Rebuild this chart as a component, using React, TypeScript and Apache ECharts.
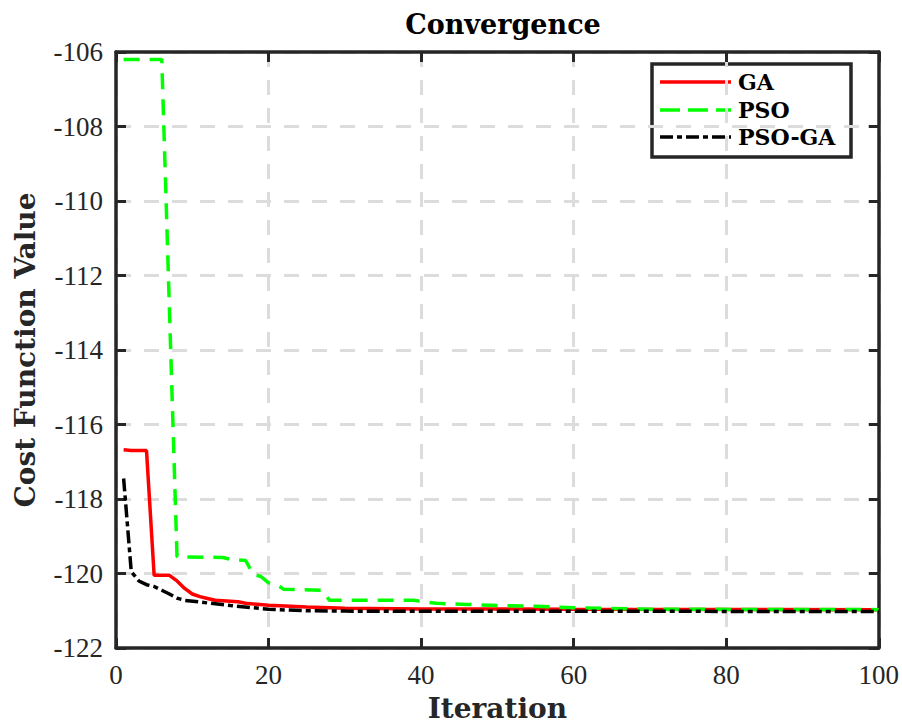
import React, { useEffect, useRef } from "react";
import * as echarts from "echarts";

const xTicks = [0, 20, 40, 60, 80, 100];
const yTicks = [-122, -120, -118, -116, -114, -112, -110, -108, -106];

const gaData: [number, number][] = [
  [1, -116.68], [2, -116.7], [3, -116.7], [4, -116.7], [5, -120.05], [6, -120.05], [7, -120.05],
  [8, -120.2], [9, -120.4], [10, -120.55], [11, -120.62], [12, -120.67], [13, -120.72],
  [16, -120.76], [17, -120.8], [20, -120.85], [25, -120.9], [30, -120.93], [40, -120.95],
  [60, -120.96], [100, -120.97],
];

const psoData: [number, number][] = [
  [1, -106.2], [6, -106.2], [8, -119.55], [14, -119.57], [15, -119.62], [17, -119.65],
  [18, -120.03], [19, -120.08], [20, -120.25], [21, -120.3], [22, -120.42], [27, -120.45],
  [28, -120.72], [39, -120.72], [42, -120.8], [46, -120.83], [50, -120.86], [55, -120.88],
  [60, -120.92], [70, -120.96], [100, -120.97],
];

const psoGaData: [number, number][] = [
  [1, -117.45], [2, -119.95], [3, -120.2], [4, -120.3], [5, -120.35], [6, -120.45],
  [7, -120.55], [8, -120.66], [9, -120.72], [12, -120.79], [15, -120.86], [18, -120.92],
  [20, -120.96], [25, -121.0], [30, -121.01], [100, -121.02],
];

const seriesNames = ["GA", "PSO", "PSO-GA"];
const seriesColors = ["#ff0000", "#00ff00", "#000000"];

export default function App() {
  const ref = useRef<HTMLDivElement>(null);

  useEffect(() => {
    if (!ref.current) return;
    const chart = echarts.init(ref.current, undefined, { renderer: "svg" });
    const axisColor = "#262626";
    const tickFont = { fontFamily: "'Liberation Serif', serif", fontSize: 27, color: axisColor };
    const nameFont = { fontFamily: "DejaVu Serif", fontSize: 28, fontWeight: "bold" as const, color: axisColor };
    const splitLine = { show: true, lineStyle: { color: "#dcdcdc", width: 3, type: [15, 13] as number[] } };
    const axisLine = { show: true, onZero: false, lineStyle: { color: axisColor, width: 3.5 } };
    const axisTick = { show: true, inside: true, length: 10, lineStyle: { color: axisColor, width: 3 } };

    const legendRows = [82, 110, 137];
    const legendDash: (number[] | null)[] = [null, [20, 8], [13, 4, 5, 4]];
    const legendChildren: any[] = [
      {
        type: "rect",
        shape: { x: 652, y: 64, width: 199, height: 93 },
        style: { fill: "#ffffff", stroke: axisColor, lineWidth: 3.5 },
      },
    ];
    seriesNames.forEach((n, i) => {
      legendChildren.push({
        type: "line",
        shape: { x1: 660, y1: legendRows[i], x2: 731, y2: legendRows[i] },
        style: { stroke: seriesColors[i], lineWidth: 3.5, lineDash: legendDash[i] || undefined },
      });
      legendChildren.push({
        type: "text",
        x: 738,
        y: legendRows[i],
        style: {
          text: n,
          fill: "#000000",
          font: "bold 22px 'DejaVu Serif'",
          textVerticalAlign: "middle",
          verticalAlign: "middle",
        },
      });
    });

    chart.setOption({
      animation: false,
      backgroundColor: "#ffffff",
      title: {
        text: "Convergence",
        left: 498,
        top: 6,
        textAlign: "center",
        textStyle: { fontFamily: "DejaVu Serif", fontSize: 27, fontWeight: "bold", color: "#000000" },
      },
      grid: { left: 116, right: 22, top: 52, bottom: 75 },
      xAxis: [
        {
          type: "value",
          min: 0,
          max: 100,
          interval: 20,
          name: "Iteration",
          nameLocation: "middle",
          nameGap: 46,
          nameTextStyle: nameFont,
          axisLine,
          axisTick,
          axisLabel: { ...tickFont, margin: 13, formatter: (v: number) => (xTicks.includes(v) ? String(v) : "") },
          splitLine,
        },
        {
          type: "value",
          position: "top",
          min: 0,
          max: 100,
          interval: 20,
          axisLine,
          axisTick,
          axisLabel: { show: false },
          splitLine: { show: false },
        },
      ],
      yAxis: [
        {
          type: "value",
          min: -122,
          max: -106,
          interval: 2,
          name: "Cost Function Value",
          nameLocation: "middle",
          nameGap: 77,
          nameTextStyle: nameFont,
          axisLine,
          axisTick,
          axisLabel: { ...tickFont, margin: 13, formatter: (v: number) => (yTicks.includes(v) ? String(v) : "") },
          splitLine,
        },
        {
          type: "value",
          position: "right",
          min: -122,
          max: -106,
          interval: 2,
          axisLine,
          axisTick,
          axisLabel: { show: false },
          splitLine: { show: false },
        },
      ],
      series: [
        {
          name: seriesNames[0],
          type: "line",
          data: gaData,
          symbol: "none",
          lineStyle: { color: seriesColors[0], width: 3.5, type: "solid" },
          z: 3,
        },
        {
          name: seriesNames[1],
          type: "line",
          data: psoData,
          symbol: "none",
          lineStyle: { color: seriesColors[1], width: 3.5, type: [16, 10] },
          z: 4,
        },
        {
          name: seriesNames[2],
          type: "line",
          data: psoGaData,
          symbol: "none",
          lineStyle: { color: seriesColors[2], width: 3.5, type: [13, 4, 5, 4] },
          z: 5,
        },
      ],
      graphic: [{ type: "group", z: 100, children: legendChildren }],
    });
    return () => chart.dispose();
  }, []);

  return <div ref={ref} style={{ position: "fixed", left: 0, top: 0, width: 902, height: 727 }} />;
}
